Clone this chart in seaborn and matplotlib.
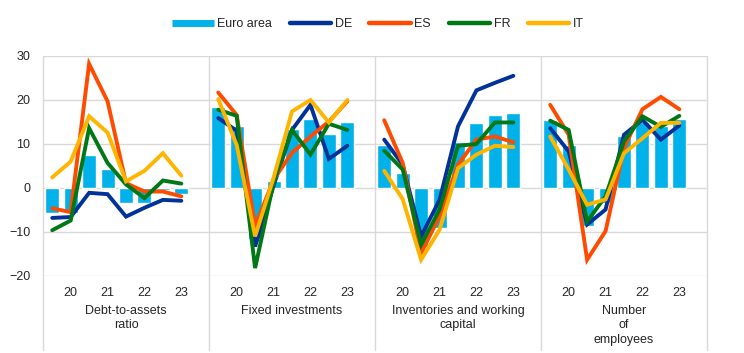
import numpy as np
import pandas as pd
import matplotlib
matplotlib.use("Agg")
import matplotlib.pyplot as plt
from matplotlib.lines import Line2D
import seaborn as sns

sns.set_theme(style="white")
plt.rcParams['font.family'] = ['Liberation Sans', 'DejaVu Sans']

# ---------------- data ----------------
periods = ["2020H1", "2020H2", "2021H1", "2021H2", "2022H1", "2022H2", "2023H1", "2023H2"]
year_ticks = ["20", "21", "22", "23"]
panels = ["Debt-to-assets\nratio", "Fixed investments",
          "Inventories and working\ncapital", "Number\nof\nemployees"]

ea_debt = [-5.7, -5.7, 7.6, 4.3, -3.3, -3.3, -0.5, -1.4]
de_debt = [-6.8, -6.6, -1.1, -1.4, -6.5, -4.5, -2.7, -2.9]
es_debt = [-4.6, -5.5, 28.2, 19.7, 1.1, -0.8, -0.8, -1.9]
fr_debt = [-9.6, -7.4, 13.6, 5.7, 0.8, -2.3, 1.7, 1.0]
it_debt = [2.4, 6.0, 16.3, 12.6, 1.5, 3.9, 7.9, 2.8]

ea_inv = [18.4, 14.2, -11.6, 1.7, 13.4, 15.7, 12.3, 14.9]
de_inv = [15.9, 13.0, -13.3, 0.5, 13.2, 18.9, 6.6, 9.6]
es_inv = [21.7, 16.6, -8.7, 1.9, 8.0, 11.7, 15.1, 19.7]
fr_inv = [17.8, 16.4, -18.2, 1.2, 13.2, 7.6, 14.6, 13.2]
it_inv = [20.2, 9.8, -11.0, 2.3, 17.4, 20.0, 14.9, 20.0]

ea_wc = [9.8, 3.4, -13.3, -9.0, 10.5, 14.8, 16.7, 17.0]
de_wc = [11.0, 5.3, -11.0, -2.7, 14.0, 22.2, 23.9, 25.5]
es_wc = [15.4, 5.7, -14.8, -6.4, 5.3, 11.0, 11.7, 10.4]
fr_wc = [8.5, 4.2, -12.9, -4.9, 9.6, 10.0, 14.9, 14.9]
it_wc = [3.9, -2.5, -16.3, -9.5, 4.5, 7.6, 9.6, 9.3]

ea_emp = [15.5, 9.8, -8.7, -3.4, 11.9, 15.1, 14.0, 15.7]
de_emp = [13.6, 8.3, -8.3, -4.9, 12.1, 15.5, 11.0, 14.2]
es_emp = [18.9, 12.1, -16.3, -9.8, 9.1, 17.9, 20.7, 17.9]
fr_emp = [15.3, 13.2, -7.6, -1.9, 10.6, 16.3, 13.9, 16.4]
it_emp = [11.7, 4.2, -3.8, -2.6, 7.9, 11.3, 14.8, 14.8]

panel_data = [
    (ea_debt, de_debt, es_debt, fr_debt, it_debt),
    (ea_inv, de_inv, es_inv, fr_inv, it_inv),
    (ea_wc, de_wc, es_wc, fr_wc, it_wc),
    (ea_emp, de_emp, es_emp, fr_emp, it_emp),
]
countries = ["DE", "ES", "FR", "IT"]
colors = {"Euro area": "#00b1ea", "DE": "#003299", "ES": "#ff4b00",
          "FR": "#007816", "IT": "#ffb400"}

# ---------------- figure ----------------
W, H = 744, 353
fig = plt.figure(figsize=(W / 100, H / 100), dpi=100)

left_px, right_px = 43, 707
top_px, bot_px = 56, 276
pw = (right_px - left_px) / 4
grid_c = "#d9d9d9"
fs = 9

for i, (title, vals) in enumerate(zip(panels, panel_data)):
    x0 = left_px + i * pw
    ax = fig.add_axes([x0 / W, 1 - bot_px / H, pw / W, (bot_px - top_px) / H])
    pos = np.arange(len(periods))
    df_bar = pd.DataFrame({"pos": pos, "val": vals[0]})
    sns.barplot(data=df_bar, x="pos", y="val", native_scale=True,
                color=colors["Euro area"], saturation=1, width=0.76, ax=ax)
    long = pd.DataFrame({
        "pos": np.tile(pos, 4),
        "val": np.concatenate([vals[k + 1] for k in range(4)]),
        "country": np.repeat(countries, len(pos)),
    })
    sns.lineplot(data=long, x="pos", y="val", hue="country", palette=colors,
                 hue_order=countries, linewidth=2.8, ax=ax, legend=False,
                 solid_capstyle="round", solid_joinstyle="miter", zorder=3)
    ax.set_xlim(-0.5, 8.5)
    ax.set_ylim(-20, 30)
    ax.set_yticks([-20, -10, 0, 10, 20, 30])
    ax.yaxis.grid(True, color=grid_c, linewidth=1)
    ax.set_axisbelow(True)
    for s in ax.spines.values():
        s.set_visible(False)
    ax.set_xticks([1, 3, 5, 7])
    ax.set_xticklabels(year_ticks, fontsize=fs)
    ax.tick_params(axis="x", length=0, pad=8)
    ax.set_xlabel("")
    ax.set_ylabel("")
    if i == 0:
        ax.tick_params(axis="y", length=0, pad=9, labelsize=fs)
    else:
        ax.tick_params(axis="y", length=0, labelleft=False)
    # category label
    fig.text((x0 + pw / 2) / W, 1 - 305 / H, title, ha="center", va="top",
             fontsize=fs, linespacing=1.25)

# panel separators
for i in range(5):
    xx = (left_px + i * pw) / W
    fig.add_artist(Line2D([xx, xx], [1 - top_px / H, 1 - 350 / H],
                          color=grid_c, linewidth=1, transform=fig.transFigure))

# legend
handles = [Line2D([], [], color=colors["Euro area"], linewidth=5, solid_capstyle="butt")]
handles += [Line2D([], [], color=colors[c], linewidth=3.2, solid_capstyle="round")
            for c in countries]
fig.legend(handles, ["Euro area"] + countries, loc="center",
           bbox_to_anchor=(0.508, 1 - 24 / H), ncol=5, frameon=False,
           fontsize=fs, handlelength=3.3, handletextpad=0.3, columnspacing=1.4)

fig.savefig("out.png", dpi=100)
